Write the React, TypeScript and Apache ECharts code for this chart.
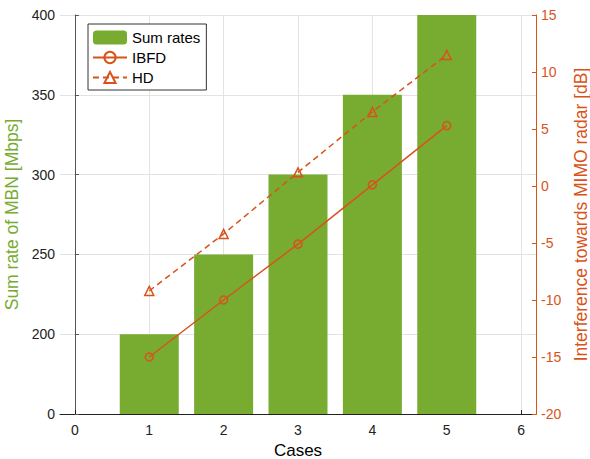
import React, { useEffect, useRef } from "react";
import * as echarts from "echarts";

const cases = [1, 2, 3, 4, 5];
const sumRates = [200, 250, 300, 350, 400];
const ibfd = [-15, -10, -5.1, 0.1, 5.3];
const hd = [-9.2, -4.2, 1.2, 6.5, 11.5];
const xTicks = [0, 1, 2, 3, 4, 5, 6];

const GREEN = "#77AC30";
const ORANGE = "#D95319";
const FONT = "Liberation Sans, Arial, sans-serif";

export default function App() {
  const ref = useRef<HTMLDivElement>(null);
  useEffect(() => {
    document.body.style.margin = "0";
    const chart = echarts.init(ref.current!, null, { renderer: "svg" });
    chart.setOption({
      animation: false,
      textStyle: { fontFamily: FONT },
      grid: { left: 60, right: 54, top: 15, bottom: 45, containLabel: false, outerBoundsMode: "none" },
      legend: {
        orient: "vertical",
        left: 88,
        top: 24,
        backgroundColor: "#fff",
        borderColor: "#333",
        borderWidth: 1,
        borderRadius: 0,
        padding: [6, 6, 5, 4],
        itemWidth: 34,
        itemHeight: 14,
        itemGap: 5,
        textStyle: { fontFamily: FONT, fontSize: 15, color: "#000" },
        data: ["Sum rates", "IBFD", "HD"],
      },
      xAxis: {
        type: "value",
        min: -0.2,
        max: 6.2,
        name: "Cases",
        nameLocation: "middle",
        nameGap: 25,
        nameTextStyle: { fontSize: 17, color: "#000", fontFamily: FONT },
        axisLine: { show: true, onZero: false, lineStyle: { color: "#222", width: 1 } },
        axisTick: { show: true, inside: true, length: 4, customValues: xTicks, lineStyle: { color: "#222" } },
        axisLabel: { customValues: xTicks, fontSize: 14, color: "#222", margin: 9, fontFamily: FONT },
        splitLine: { show: true, lineStyle: { color: "#e3e3e3", width: 1 } },
      },
      yAxis: [
        {
          type: "value",
          min: 150,
          max: 400,
          interval: 50,
          name: "Sum rate of MBN [Mbps]",
          nameLocation: "middle",
          nameGap: 32,
          nameTextStyle: { fontSize: 17.5, color: GREEN, fontFamily: FONT },
          axisLine: { show: true, lineStyle: { color: "#555", width: 1 } },
          axisTick: { show: true, inside: true, length: 4, lineStyle: { color: "#555" } },
          axisLabel: {
            fontSize: 14,
            color: "#222",
            margin: 5,
            fontFamily: FONT,
            formatter: (v: number) => (v === 150 ? "0" : String(v)),
          },
          splitLine: { show: true, lineStyle: { color: "#e3e3e3", width: 1 } },
        },
        {
          type: "value",
          min: -20,
          max: 15,
          interval: 5,
          position: "right",
          name: "Interference towards MIMO radar [dB]",
          nameLocation: "middle",
          nameGap: 35,
          nameRotate: 90,
          nameTextStyle: { fontSize: 17.5, color: ORANGE, fontFamily: FONT },
          axisLine: { show: true, lineStyle: { color: ORANGE, width: 1 } },
          axisTick: { show: true, inside: true, length: 4, lineStyle: { color: ORANGE } },
          axisLabel: { fontSize: 14, color: ORANGE, margin: 5, fontFamily: FONT },
          splitLine: { show: false },
        },
      ],
      series: [
        {
          name: "Sum rates",
          type: "bar",
          yAxisIndex: 0,
          barWidth: 59,
          itemStyle: { color: GREEN },
          data: cases.map((c, i) => [c, sumRates[i]]),
          z: 1,
        },
        {
          name: "IBFD",
          type: "line",
          yAxisIndex: 1,
          symbol: "circle",
          symbolSize: 8,
          itemStyle: { color: "rgba(255,255,255,0)", borderColor: ORANGE, borderWidth: 1.5 },
          lineStyle: { color: ORANGE, width: 1.5 },
          data: cases.map((c, i) => [c, ibfd[i]]),
          z: 3,
        },
        {
          name: "HD",
          type: "line",
          yAxisIndex: 1,
          symbol: "triangle",
          symbolSize: 9,
          itemStyle: { color: "rgba(255,255,255,0)", borderColor: ORANGE, borderWidth: 1.5 },
          lineStyle: { color: ORANGE, width: 1.5, type: [6, 4] },
          data: cases.map((c, i) => [c, hd[i]]),
          z: 3,
        },
      ],
    });
    return () => chart.dispose();
  }, []);
  return <div ref={ref} style={{ width: 590, height: 459 }} />;
}
